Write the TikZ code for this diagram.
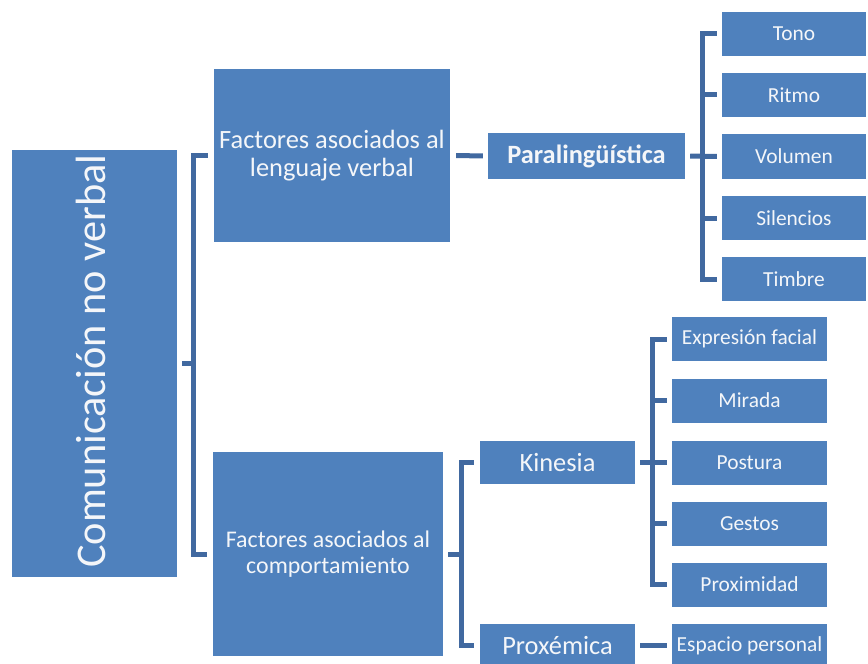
\documentclass[tikz,border=0pt]{standalone}
\usepackage{fontspec}
\setmainfont{Carlito}
\definecolor{boxblue}{HTML}{4F81BD}
\definecolor{lineblue}{HTML}{4169A0}
\definecolor{boxtext}{HTML}{F4F6F9}
\begin{document}
\begin{tikzpicture}[x=1bp,y=-1bp,
  box/.style={fill=boxblue,draw=none,text=boxtext,inner sep=0pt,align=center},
  leaf/.style={box,minimum width=144bp,minimum height=44bp,font=\fontsize{21.5}{24}\selectfont},
  leafb/.style={box,minimum width=155bp,minimum height=44bp,font=\fontsize{21.5}{24}\selectfont},
  mid/.style={box,minimum width=155bp,minimum height=43bp,font=\fontsize{26.5}{30}\selectfont},
  conn/.style={draw=lineblue,line width=5bp}]
\useasboundingbox (0,0) rectangle (868,664);

% root box with vertical title
\node[box,minimum width=165bp,minimum height=427bp] (main) at (94.5,363.5) {};
\node[text=boxtext,rotate=90,font=\fontsize{42.5}{48}\selectfont] (maintxt) at (91,361) {Comunicación no verbal};

% first level
\node[box,minimum width=236bp,minimum height=173bp,font=\fontsize{26.5}{28}\selectfont] (fav) at (332,155.5) {Factores asociados al\\lenguaje verbal};
\node[box,minimum width=230bp,minimum height=204bp,font=\fontsize{24}{25.5}\selectfont] (fac) at (328,554) {Factores asociados al\\comportamiento};

% second level
\node[box,minimum width=197bp,minimum height=46bp,font=\fontsize{26.5}{30}\selectfont\bfseries] (para) at (586.5,156) {Paralingüística};
\node[mid] (kin) at (557.5,462.5) {Kinesia};
\node[mid] (prox) at (557.5,645.5) {Proxémica};

% leaves of Paralingüística
\node[leaf] (tono) at (794,34) {Tono};
\node[leaf] (ritmo) at (794,95) {Ritmo};
\node[leaf] (vol) at (794,156.5) {Volumen};
\node[leaf] (sil) at (794,218) {Silencios};
\node[leaf] (timb) at (794,279) {Timbre};

% leaves of Kinesia and Proxémica
\node[leafb] (expr) at (749.5,339) {Expresión facial};
\node[leafb] (mir) at (749.5,400.5) {Mirada};
\node[leafb] (post) at (749.5,462.5) {Postura};
\node[leafb] (gest) at (749.5,523.5) {Gestos};
\node[leafb] (proxi) at (749.5,584.5) {Proximidad};
\node[leafb] (esp) at (749.5,645.5) {Espacio personal};

% root bracket
\draw[conn] ([xshift=5bp]main.east) -- ++(14,0);
\draw[conn] ([xshift=-6bp]fav.west) -- ++(-14,0) |- ([xshift=-6bp]fac.west);

% verbal branch
\draw[conn] ([xshift=6bp]fav.east) -- ([xshift=-5bp]para.west);
\draw[conn] ([xshift=5bp]para.east) -- ([xshift=-5bp]vol.west);
\draw[conn] ([xshift=-5bp]tono.west) -- ++(-14,0) |- ([xshift=-5bp]timb.west);
\draw[conn] ([xshift=-5bp]ritmo.west) -- ++(-16,0);
\draw[conn] ([xshift=-5bp]sil.west) -- ++(-16,0);

% behaviour branch
\draw[conn] ([xshift=5bp]fac.east) -- ++(16,0);
\draw[conn] ([xshift=-6bp]kin.west) -- ++(-12,0) |- ([xshift=-6bp]prox.west);
\draw[conn] ([xshift=5bp]kin.east) -- ([xshift=-5bp]post.west);
\draw[conn] ([xshift=-5bp]expr.west) -- ++(-14,0) |- ([xshift=-5bp]proxi.west);
\draw[conn] ([xshift=-5bp]mir.west) -- ++(-16,0);
\draw[conn] ([xshift=-5bp]gest.west) -- ++(-16,0);
\draw[conn] ([xshift=5bp]prox.east) -- ([xshift=-5bp]esp.west);
\end{tikzpicture}
\end{document}
